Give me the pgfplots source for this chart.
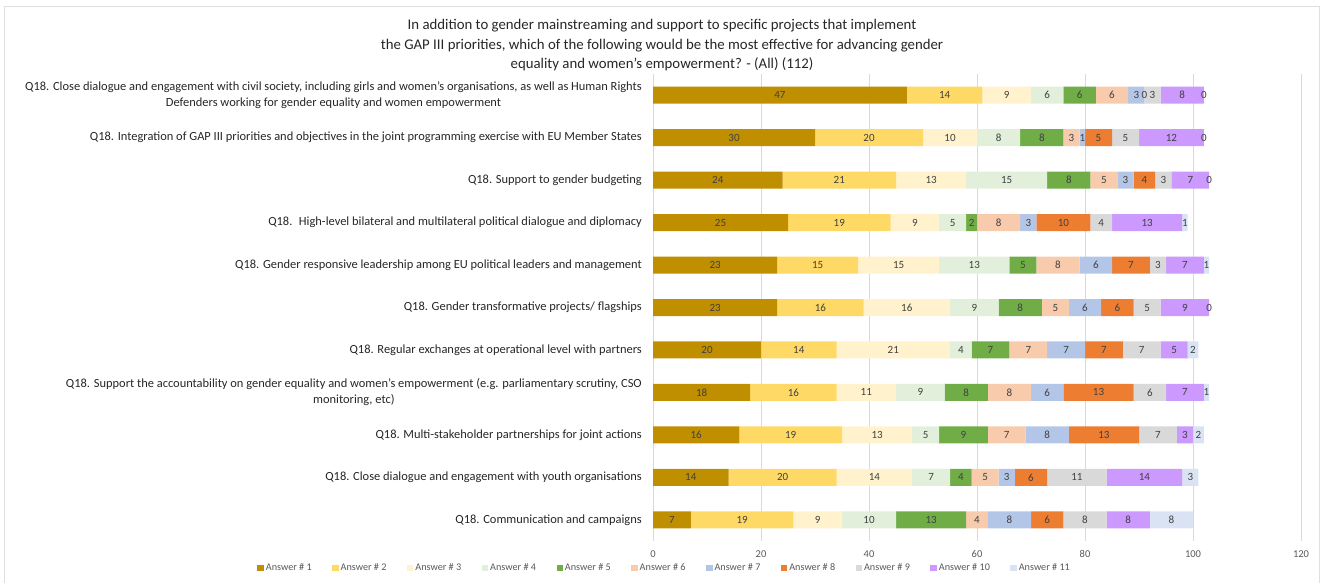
\documentclass[border=0pt]{standalone}
\usepackage{pgfplots}
\pgfplotsset{compat=1.18}
\usepackage{pgfplotstable}
\usepackage{fontspec}
\setmainfont{Carlito}
\definecolor{c1}{HTML}{BF8F00}
\definecolor{c2}{HTML}{FFD966}
\definecolor{c3}{HTML}{FFF2CC}
\definecolor{c4}{HTML}{E2EFDA}
\definecolor{c5}{HTML}{70AD47}
\definecolor{c6}{HTML}{F8CBAD}
\definecolor{c7}{HTML}{B4C6E7}
\definecolor{c8}{HTML}{ED7D31}
\definecolor{c9}{HTML}{D9D9D9}
\definecolor{c10}{HTML}{CC99FF}
\definecolor{c11}{HTML}{DAE3F3}
\definecolor{txt}{HTML}{404040}
\definecolor{lab}{HTML}{262626}
\definecolor{lgt}{HTML}{595959}
\pgfplotstableread{
id a1 a2 a3 a4 a5 a6 a7 a8 a9 a10 a11
1 47 14 9 6 6 6 3 0 3 8 0
2 30 20 10 8 8 3 1 5 5 12 0
3 24 21 13 15 8 5 3 4 3 7 0
4 25 19 9 5 2 8 3 10 4 13 1
5 23 15 15 13 5 8 6 7 3 7 1
6 23 16 16 9 8 5 6 6 5 9 0
7 20 14 21 4 7 7 7 7 7 5 2
8 18 16 11 9 8 8 6 13 6 7 1
9 16 19 13 5 9 7 8 13 7 3 2
10 14 20 14 7 4 5 3 6 11 14 3
11 7 19 9 10 13 4 8 6 8 8 8
}\data
% zero-valued answers: position (cumulative total) and category
\pgfplotstableread{
x y
91 1
102 1
102 2
103 3
103 6
}\zeros
\begin{document}
\begin{tikzpicture}
\path[use as bounding box] (0,0) rectangle (1322bp,-583bp);
\draw[gray!25] (4bp,-6bp) rectangle (1319bp,-600bp);
\node[align=center, font=\fontsize{14.8bp}{19.5bp}\selectfont, text=lab] at (662bp,-45.5bp)
 {In addition to gender mainstreaming and support to specific projects that implement\\
  the GAP III priorities, which of the following would be the most effective for advancing gender\\
  equality and women’s empowerment? - (All) (112)};
\begin{axis}[
  at={(653bp,-541bp)}, anchor=south west,
  scale only axis, width=648bp, height=467bp,
  xbar stacked, bar width=17bp,
  xmin=0, xmax=120, xtick={0,20,...,120},
  ymin=0.5, ymax=11.5, y dir=reverse,
  ytick={1,...,11},
  yticklabels={
   {Q18. Close dialogue and engagement with civil society, including girls and women's organisations, as well as Human Rights\\Defenders working for gender equality and women empowerment},
   {Q18. Integration of GAP III priorities and objectives in the joint programming exercise with EU Member States},
   {Q18. Support to gender budgeting},
   {Q18.~ High-level bilateral and multilateral political dialogue and diplomacy},
   {Q18. Gender responsive leadership among EU political leaders and management},
   {Q18. Gender transformative projects/ flagships},
   {Q18. Regular exchanges at operational level with partners},
   {Q18. Support the accountability on gender equality and women’s empowerment (e.g. parliamentary scrutiny, CSO\\monitoring, etc)},
   {Q18. Multi-stakeholder partnerships for joint actions},
   {Q18. Close dialogue and engagement with youth organisations},
   {Q18. Communication and campaigns}},
  yticklabel style={align=center, font=\fontsize{12.45bp}{16bp}\selectfont, text=lab, inner sep=0pt, xshift=-11bp},
  xticklabel style={font=\fontsize{10.5bp}{12bp}\selectfont, text=lgt, inner sep=0pt, yshift=-9bp},
  /pgf/number format/assume math mode=true,
  major tick length=0pt,
  axis line style={draw=none},
  xmajorgrids, grid style={draw=c9, line width=0.8bp},
  ymajorgrids=false,
  legend columns=11,
  legend style={at={(0.018,-0.058)}, anchor=center, draw=none, fill=none,
    font=\fontsize{10.2bp}{12bp}\selectfont, text=lgt,
    /tikz/every even column/.append style={column sep=18.5bp}},
  legend image code/.code={\fill[#1,draw=none] (0bp,-3.2bp) rectangle (6.4bp,3.2bp);},
  clip=false,
]
\pgfplotsinvokeforeach{1,...,11}{
  \addplot[fill=c#1, draw=none, nodes near coords, point meta=explicit,
    every node near coord/.append style={font=\fontsize{11bp}{12bp}\selectfont, text=txt, anchor=center}]
    table[x=a#1, y=id, meta=a#1] {\data};
  \addlegendentry{Answer \# #1}
}
\addplot[forget plot, stack plots=false, only marks, mark=text,
  text mark={\fontsize{11bp}{12bp}\selectfont\textcolor{txt}{0}},
  text mark as node=true]
  table[x=x, y=y] {\zeros};
\end{axis}
\end{tikzpicture}
\end{document}
